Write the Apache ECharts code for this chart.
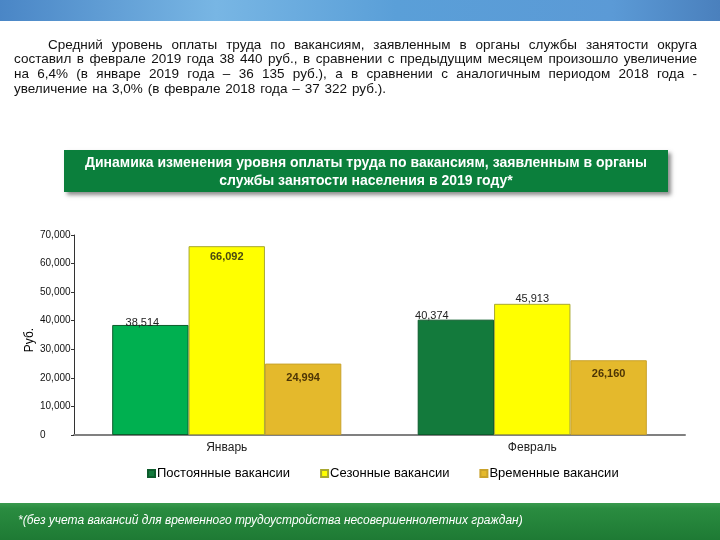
<!DOCTYPE html>
<html><head><meta charset="utf-8">
<script src="https://cdn.jsdelivr.net/npm/echarts@6/dist/echarts.min.js"></script>
<style>html,body{margin:0;padding:0;background:#fff}#c{width:720px;height:540px}</style>
</head><body><div id="c"></div>
<script>
var categories = ['Январь', 'Февраль'];
var seriesNames = ['Постоянные вакансии', 'Сезонные вакансии', 'Временные вакансии'];
var permanent = [38514, 40374];
var seasonal = [66092, 45913];
var temporary = [24994, 26160];
var yTicks = [0, 10000, 20000, 30000, 40000, 50000, 60000, 70000];
var yName = 'Руб.';
var paragraph = [
  'Средний уровень оплаты труда по вакансиям, заявленным в органы службы занятости округа',
  'составил в феврале 2019 года 38 440 руб., в сравнении с предыдущим месяцем произошло увеличение',
  'на 6,4% (в январе 2019 года – 36 135 руб.), а в сравнении с аналогичным периодом 2018 года -',
  'увеличение на 3,0% (в феврале 2018 года – 37 322 руб.).'
];
var chartTitle = ['Динамика изменения уровня оплаты труда по вакансиям, заявленным в органы', 'службы занятости населения в 2019 году*'];
var footnote = '*(без учета вакансий для временного трудоустройства несовершеннолетних граждан)';

var chart = echarts.init(document.getElementById('c'));
var FONT = 'Liberation Sans, Arial, sans-serif';
var fmt = function (v) { return String(v).replace(/\B(?=(\d{3})+(?!\d))/g, ','); };

var ctx = document.createElement('canvas').getContext('2d');
ctx.font = '20px monospace';
var wMono = ctx.measureText('абвгдежз wwwmmm').width;
ctx.font = '20px "Liberation Sans Narrow", monospace';
var wNarrow = ctx.measureText('абвгдежз wwwmmm').width;
var hasNarrow = Math.abs(wMono - wNarrow) > 0.5;
var pFont = hasNarrow ? '15px "Liberation Sans Narrow", ' + FONT : '13.5px ' + FONT;
ctx.font = pFont;
var graphics = [];
var lineStarts = [48, 14, 14, 14];
var lineRight = 697;
var lineTop = 45;
var lineH = 14.7;
paragraph.forEach(function (ln, i) {
  var words = ln.split(' ');
  var y = lineTop + i * lineH;
  var justify = i < paragraph.length - 1;
  var widths = words.map(function (w) { return ctx.measureText(w).width; });
  var total = widths.reduce(function (a, b) { return a + b; }, 0);
  var gap = justify ? (lineRight - lineStarts[i] - total) / (words.length - 1) : ctx.measureText(' ').width * 1.3;
  var x = lineStarts[i];
  words.forEach(function (w, k) {
    graphics.push({ type: 'text', style: { x: x, y: y, text: w, font: pFont, fill: '#111', textVerticalAlign: 'middle' } });
    x += widths[k] + gap;
  });
});

var g = [
  { type: 'rect', shape: { x: 0, y: 0, width: 720, height: 21 }, style: { fill: new echarts.graphic.LinearGradient(0, 0, 1, 0, [
    { offset: 0, color: '#4a86c6' }, { offset: 0.3, color: '#78b6e4' }, { offset: 0.55, color: '#5a9fd8' }, { offset: 0.85, color: '#5b9ad6' }, { offset: 1, color: '#4a80bd' }]) }, z: 0 },
  { type: 'rect', shape: { x: 64, y: 150, width: 604, height: 42 }, style: { fill: '#0b7f3c', shadowBlur: 4, shadowOffsetX: 3, shadowOffsetY: 3, shadowColor: 'rgba(0,0,0,0.45)' } },
  { type: 'text', style: { x: 366, y: 163, text: chartTitle[0], font: 'bold 14px ' + FONT, fill: '#fff', textAlign: 'center', textVerticalAlign: 'middle' } },
  { type: 'text', style: { x: 366, y: 181, text: chartTitle[1], font: 'bold 14px ' + FONT, fill: '#fff', textAlign: 'center', textVerticalAlign: 'middle' } },
  { type: 'rect', shape: { x: 0, y: 503, width: 720, height: 37 }, style: { fill: new echarts.graphic.LinearGradient(0, 0, 0, 1, [
    { offset: 0, color: '#3a9a4e' }, { offset: 0.15, color: '#2a8c40' }, { offset: 1, color: '#1e7a34' }]) } },
  { type: 'text', style: { x: 18, y: 521, text: footnote, font: 'italic 12px ' + FONT, fill: '#fff', textVerticalAlign: 'middle' } },
  { type: 'text', x: 30, y: 340, rotation: Math.PI / 2, style: { x: 0, y: 0, text: yName, font: '12px ' + FONT, fill: '#000', textAlign: 'center', textVerticalAlign: 'middle' } }
].concat(graphics);

function items(vals, colors, labels) {
  return vals.map(function (v, i) {
    var o = { value: v, label: labels[i] };
    if (colors && colors[i]) o.itemStyle = { color: colors[i] };
    return o;
  });
}
var lblOut = function (dx, dy) { return { show: true, position: 'top', distance: dy, offset: [dx, 0], fontSize: 11, color: '#222', fontFamily: FONT }; };
var lblIn = function (dy, col) { return { show: true, position: 'insideTop', distance: dy, fontSize: 11, fontWeight: 'bold', color: col, fontFamily: FONT }; };

chart.setOption({
  animation: false,
  graphic: g,
  grid: { left: 74, right: 35, top: 235, bottom: 105 },
  legend: {
    bottom: 55, left: 142, itemWidth: 7, itemHeight: 7, itemGap: 30, icon: 'rect',
    textStyle: { fontSize: 13, color: '#000', fontFamily: FONT, padding: [0, 0, 0, -3] },
    data: seriesNames
  },
  xAxis: {
    type: 'category', data: categories,
    axisLine: { lineStyle: { color: '#808080', width: 2 } },
    axisTick: { show: false },
    axisLabel: { fontSize: 12, color: '#222', fontFamily: FONT, margin: 7 }
  },
  yAxis: {
    type: 'value', min: 0, max: 70000, interval: 10000,
    axisLine: { show: true, lineStyle: { color: '#333', width: 1 } },
    axisTick: { show: true, length: 3, lineStyle: { color: '#333' } },
    splitLine: { show: false },
    axisLabel: { fontSize: 10, color: '#111', fontFamily: FONT, align: 'left', margin: 34, formatter: function (v) { return yTicks.indexOf(v) >= 0 ? fmt(v) : ''; } }
  },
  series: [
    { name: seriesNames[0], type: 'bar', barGap: '0%', barCategoryGap: '25%', color: '#137a3c',
      itemStyle: { borderColor: '#0d5c2c', borderWidth: 1 },
      label: { formatter: function (p) { return fmt(p.value); } },
      data: items(permanent, ['#00b050', null], [lblOut(-8, -4), lblOut(-24, -2)]) },
    { name: seriesNames[1], type: 'bar', color: '#ffff00',
      itemStyle: { borderColor: '#a8a830', borderWidth: 1 },
      label: { formatter: function (p) { return fmt(p.value); } },
      data: items(seasonal, null, [lblIn(5, '#4a4a10'), lblOut(0, -1)]) },
    { name: seriesNames[2], type: 'bar', color: '#e4b92c',
      itemStyle: { borderColor: '#c9a22a', borderWidth: 1 },
      label: { formatter: function (p) { return fmt(p.value); } },
      data: items(temporary, null, [lblIn(9, '#4d3505'), lblIn(8, '#4d3505')]) }
  ]
});
</script></body></html>
